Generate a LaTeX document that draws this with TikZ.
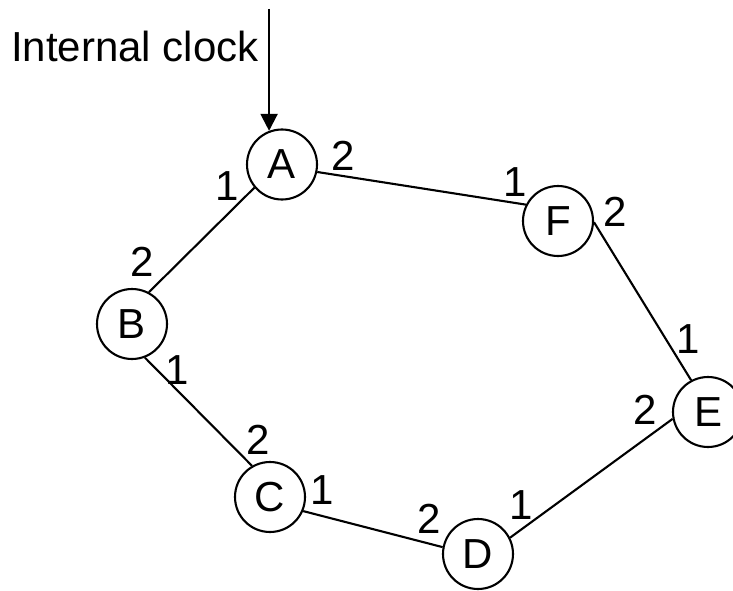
\documentclass[tikz,border=0pt]{standalone}
\usepackage{fontspec}
\setmainfont{Liberation Sans}
\usetikzlibrary{arrows.meta}
\begin{document}
\begin{tikzpicture}[x=1pt,y=-1pt,
  station/.style={circle,draw,line width=2.1pt,minimum size=70pt,inner sep=0pt,font=\fontsize{42}{50}\selectfont},
  portlbl/.style={inner sep=0pt,font=\fontsize{42}{50}\selectfont},
  link/.style={line width=2.1pt},
  every node/.append style={text=black}]
\useasboundingbox (0,0) rectangle (733,591);
\node[station] (A) at (282,164.5) {A};
\node[station] (F) at (558,221) {F};
\node[station] (B) at (132,324) {B};
\node[station] (E) at (708,412) {E};
\node[station] (C) at (270,497) {C};
\node[station] (D) at (478,554) {D};
\coordinate (clk) at (0,9);
\node[portlbl,anchor=base west] (title) at (11,62) {Internal clock};
\draw[link,-{Triangle[length=17pt,width=17pt]}] (A.111 |- clk) -- (A.111);
\draw[link] (A.220) -- (B.62);
\draw[link] (A.-12) -- (F.153);
\draw[link] (F.-2) -- (E.118);
\draw[link] (E.191) -- (D.27);
\draw[link] (C.-23) -- (D.169);
\draw[link] (B.-69) -- (C.120);
\node[portlbl] (a1) at (227,186) {1};
\node[portlbl] (a2) at (343,156) {2};
\node[portlbl] (f1) at (515,182) {1};
\node[portlbl] (f2) at (615,212) {2};
\node[portlbl] (b2) at (142,262) {2};
\node[portlbl] (b1) at (177,370) {1};
\node[portlbl] (e1) at (688,339) {1};
\node[portlbl] (e2) at (645,410) {2};
\node[portlbl] (c2) at (258,440) {2};
\node[portlbl] (c1) at (322,490) {1};
\node[portlbl] (d2) at (429,519) {2};
\node[portlbl] (d1) at (521,505) {1};
\end{tikzpicture}
\end{document}
